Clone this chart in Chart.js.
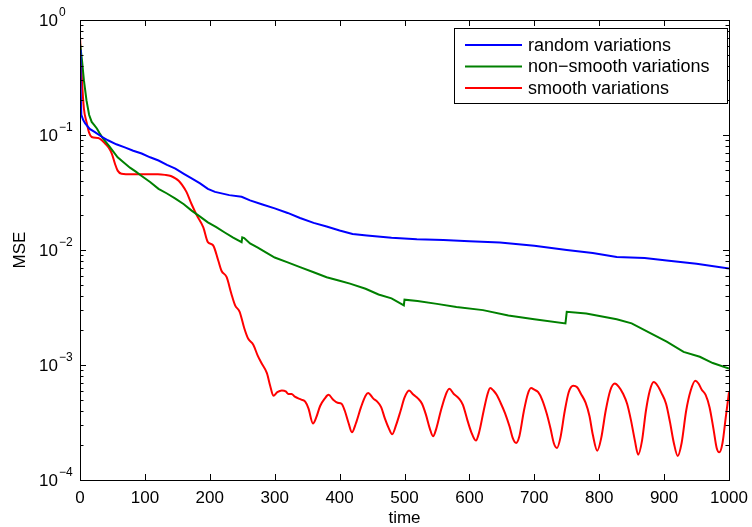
<!DOCTYPE html>
<html>
<head>
<meta charset="utf-8">
<script src="https://cdn.jsdelivr.net/npm/chart.js@4.4.1/dist/chart.umd.min.js"></script>
<style>
  html, body { margin: 0; padding: 0; background: #fff; }
</style>
</head>
<body>
<canvas id="chart-mse" width="752" height="527"></canvas>
<script>
// data
var seriesLabels = ['random variations', 'non\u2212smooth variations', 'smooth variations'];
var timeTicks = [0, 100, 200, 300, 400, 500, 600, 700, 800, 900, 1000];
var mseDecades = [-4, -3, -2, -1, 0];

var randomT = [0, 1, 2, 5, 8, 15, 23, 33, 43, 56, 69, 82, 95, 108, 121, 134, 147, 160, 172, 185, 197, 208, 230, 249, 262, 280, 300, 320, 339, 360, 380, 400, 420, 442, 480, 519, 560, 600, 647, 700, 750, 790, 827, 870, 904, 950, 1000];
var randomMse = [0.55, 0.25, 0.15, 0.135, 0.126, 0.113, 0.106, 0.097, 0.090, 0.083, 0.078, 0.073, 0.069, 0.064, 0.060, 0.055, 0.051, 0.046, 0.042, 0.038, 0.034, 0.032, 0.030, 0.029, 0.027, 0.025, 0.023, 0.021, 0.019, 0.0172, 0.016, 0.0148, 0.0138, 0.0134, 0.0128, 0.0124, 0.0122, 0.0119, 0.0116, 0.0109, 0.0100, 0.0094, 0.0087, 0.0085, 0.0081, 0.0076, 0.0069];

var nonSmoothT = [0, 3, 6, 10, 14, 18, 22, 26, 30, 35, 45, 58, 67, 77, 86, 95, 108, 121, 134, 147, 160, 172, 185, 197, 210, 223, 236, 249, 250, 253, 262, 274, 287, 300, 320, 339, 360, 380, 400, 416, 440, 460, 480, 499, 500, 520, 550, 580, 621, 660, 700, 748, 750, 780, 827, 850, 878, 904, 930, 955, 975, 1000];
var nonSmoothMse = [0.63, 0.45, 0.30, 0.20, 0.15, 0.13, 0.122, 0.114, 0.104, 0.094, 0.080, 0.064, 0.058, 0.052, 0.048, 0.044, 0.039, 0.034, 0.031, 0.028, 0.025, 0.022, 0.0195, 0.0174, 0.0158, 0.0142, 0.0128, 0.0117, 0.0129, 0.0127, 0.0114, 0.0105, 0.0095, 0.0086, 0.0078, 0.0071, 0.0064, 0.0058, 0.0054, 0.0051, 0.0046, 0.0041, 0.0038, 0.0033, 0.0037, 0.0036, 0.0034, 0.0032, 0.0030, 0.0027, 0.0025, 0.0023, 0.0029, 0.0028, 0.0025, 0.0023, 0.0019, 0.0016, 0.0013, 0.00118, 0.00104, 0.00093];

var smoothT = [0, 3, 6, 10, 14, 18, 28, 38, 44, 49, 54, 58, 64, 80, 100, 120, 131, 140, 147, 152, 157, 164, 172, 180, 190, 197, 205, 213, 218, 226, 233, 239, 246, 253, 259, 267, 274, 280, 288, 293, 298, 304, 311, 317, 321, 326, 331, 341, 347, 352, 359, 364, 370, 377, 383, 390, 397, 403, 408, 414, 419, 425, 433, 440, 444, 452, 458, 464, 470, 476, 481, 487, 494, 500, 507, 514, 521, 527, 533, 539, 544, 549, 556, 563, 569, 576, 584, 590, 597, 603, 610, 615, 622, 628, 632, 637, 642, 648, 655, 662, 667, 672, 677, 684, 690, 695, 700, 706, 712, 719, 725, 730, 735, 740, 747, 753, 760, 766, 772, 779, 785, 790, 797, 803, 810, 817, 824, 830, 837, 843, 849, 855, 860, 866, 872, 878, 884, 890, 896, 903, 909, 915, 921, 927, 934, 941, 948, 953, 958, 964, 970, 976, 981, 985, 990, 995, 1000];
var smoothMse = [0.72, 0.30, 0.17, 0.13, 0.105, 0.096, 0.094, 0.085, 0.078, 0.069, 0.056, 0.049, 0.046, 0.0455, 0.0455, 0.0455, 0.045, 0.044, 0.042, 0.040, 0.037, 0.032, 0.025, 0.020, 0.0157, 0.0117, 0.011, 0.0081, 0.0066, 0.0058, 0.0042, 0.0033, 0.0029, 0.0021, 0.0017, 0.0015, 0.0012, 0.00103, 0.00085, 0.00066, 0.00054, 0.00058, 0.00060, 0.00059, 0.00056, 0.00056, 0.00053, 0.00050, 0.00048, 0.00042, 0.00031, 0.00035, 0.00044, 0.00051, 0.00055, 0.00050, 0.00047, 0.00046, 0.00040, 0.00031, 0.00026, 0.00031, 0.00043, 0.00054, 0.00057, 0.00051, 0.00048, 0.00043, 0.00034, 0.00028, 0.00025, 0.00030, 0.00040, 0.00052, 0.00060, 0.00055, 0.00051, 0.00046, 0.00037, 0.00028, 0.00024, 0.00028, 0.00040, 0.00054, 0.00062, 0.00056, 0.00051, 0.00045, 0.00033, 0.00026, 0.00022, 0.00026, 0.00040, 0.00056, 0.00063, 0.00060, 0.00055, 0.00047, 0.00038, 0.00029, 0.00023, 0.00021, 0.00024, 0.00040, 0.00056, 0.00063, 0.00061, 0.00058, 0.00050, 0.00038, 0.00028, 0.00021, 0.00019, 0.00023, 0.00040, 0.00058, 0.00066, 0.00064, 0.00056, 0.00047, 0.00036, 0.00025, 0.00018, 0.00023, 0.00040, 0.00060, 0.00069, 0.00065, 0.00056, 0.00046, 0.00033, 0.00022, 0.000166, 0.00022, 0.00040, 0.00060, 0.00071, 0.00066, 0.00057, 0.00046, 0.00032, 0.00021, 0.000162, 0.00021, 0.00040, 0.00060, 0.00073, 0.00069, 0.00061, 0.00055, 0.00043, 0.00028, 0.00019, 0.000174, 0.00021, 0.00035, 0.00058];

function toPoints(ts, vs) {
  return ts.map(function(t, i) { return { x: t, y: vs[i] }; });
}

var FONT = '"Liberation Sans", Arial, Helvetica, sans-serif';

// box, inward ticks, 10^n labels and legend, drawn the matlab way
var matlabAxes = {
  id: 'matlabAxes',
  afterDatasetsDraw: function(chart) {
    var ctx = chart.ctx, a = chart.chartArea;
    var xs = chart.scales.x, ys = chart.scales.y;
    ctx.save();
    ctx.strokeStyle = '#000';
    ctx.lineWidth = 1;
    ctx.strokeRect(a.left + 0.5, a.top + 0.5, a.right - a.left, a.bottom - a.top);

    ctx.beginPath();
    timeTicks.forEach(function(t) {
      var px = Math.round(xs.getPixelForValue(t)) + 0.5;
      ctx.moveTo(px, a.bottom); ctx.lineTo(px, a.bottom - 6);
      ctx.moveTo(px, a.top); ctx.lineTo(px, a.top + 6);
    });
    mseDecades.forEach(function(e) {
      var py = Math.round(ys.getPixelForValue(Math.pow(10, e))) + 0.5;
      ctx.moveTo(a.left, py); ctx.lineTo(a.left + 6, py);
      ctx.moveTo(a.right, py); ctx.lineTo(a.right - 6, py);
      if (e === 0) return;
      for (var m = 2; m <= 9; m++) {
        var pm = Math.round(ys.getPixelForValue(m * Math.pow(10, e))) + 0.5;
        ctx.moveTo(a.left, pm); ctx.lineTo(a.left + 3.5, pm);
        ctx.moveTo(a.right, pm); ctx.lineTo(a.right - 3.5, pm);
      }
    });
    ctx.stroke();

    // y tick labels
    ctx.fillStyle = '#000';
    mseDecades.forEach(function(e) {
      var py = ys.getPixelForValue(Math.pow(10, e));
      ctx.font = '17px ' + FONT;
      ctx.textAlign = 'right';
      ctx.textBaseline = 'middle';
      ctx.fillText('10', 58, py + 1);
      ctx.font = '12px ' + FONT;
      ctx.textAlign = 'left';
      ctx.fillText(e === 0 ? '0' : '\u2212' + Math.abs(e), 59, py - 7);
    });

    // legend
    var lx = 454, ly = 28, lw = 273, lh = 75;
    ctx.fillStyle = '#fff';
    ctx.fillRect(lx, ly, lw, lh);
    ctx.strokeRect(lx + 0.5, ly + 0.5, lw, lh);
    chart.data.datasets.forEach(function(ds, i) {
      var ry = 45 + i * 21.5;
      ctx.strokeStyle = ds.borderColor;
      ctx.lineWidth = 2;
      ctx.beginPath();
      ctx.moveTo(465, ry); ctx.lineTo(522, ry);
      ctx.stroke();
      ctx.fillStyle = '#000';
      ctx.font = '18px ' + FONT;
      ctx.textAlign = 'left';
      ctx.textBaseline = 'middle';
      ctx.fillText(ds.label, 528, ry + 1);
    });
    ctx.restore();
  }
};

new Chart(document.getElementById('chart-mse').getContext('2d'), {
  type: 'line',
  data: {
    datasets: [{
      label: seriesLabels[0],
      data: toPoints(randomT, randomMse),
      borderColor: '#0000ff',
      borderWidth: 2,
      pointRadius: 0,
      tension: 0
    }, {
      label: seriesLabels[1],
      data: toPoints(nonSmoothT, nonSmoothMse),
      borderColor: '#008000',
      borderWidth: 2,
      pointRadius: 0,
      tension: 0
    }, {
      label: seriesLabels[2],
      data: toPoints(smoothT, smoothMse),
      borderColor: '#ff0000',
      borderWidth: 2,
      pointRadius: 0,
      cubicInterpolationMode: 'monotone'
    }]
  },
  options: {
    responsive: false,
    animation: false,
    layout: { padding: { top: 20, right: 23, left: 0, bottom: 0 } },
    plugins: {
      legend: { display: false },
      tooltip: { enabled: false }
    },
    scales: {
      x: {
        type: 'linear',
        min: 0,
        max: 1000,
        grid: { display: false },
        border: { display: false },
        afterBuildTicks: function(scale) {
          scale.ticks = timeTicks.map(function(v) { return { value: v }; });
        },
        afterFit: function(scale) { scale.height = 47; },
        ticks: {
          color: '#000',
          font: { family: FONT, size: 17 },
          maxRotation: 0,
          autoSkip: false,
          padding: 0,
          callback: function(v) { return String(v); }
        },
        title: {
          display: true,
          text: 'time',
          color: '#000',
          font: { family: FONT, size: 17, lineHeight: 1 },
          padding: { top: 0, bottom: 0 }
        }
      },
      y: {
        type: 'logarithmic',
        min: 1e-4,
        max: 1,
        grid: { display: false },
        border: { display: false },
        ticks: { display: false },
        afterFit: function(scale) { scale.width = 80; },
        title: {
          display: true,
          text: 'MSE',
          color: '#000',
          font: { family: FONT, size: 17, lineHeight: 1 },
          padding: { top: 12, bottom: 0 }
        }
      }
    }
  },
  plugins: [matlabAxes]
});
</script>
</body>
</html>
